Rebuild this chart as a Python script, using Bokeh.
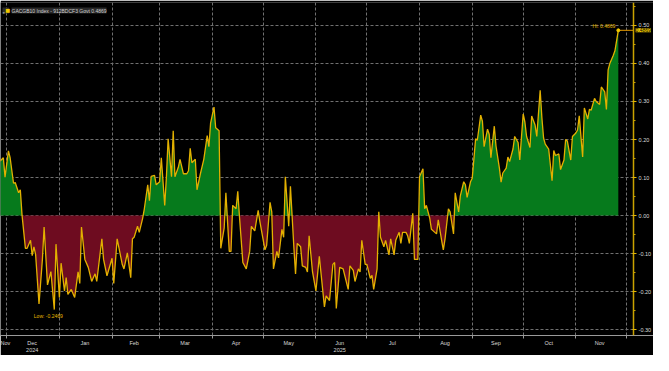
import numpy as np
from bokeh.plotting import figure
from bokeh.models import Range1d, FixedTicker, Label, NumeralTickFormatter
from bokeh.embed import file_html
from bokeh.resources import INLINE

series_name = "GACGB10 Index - 912BDCF3 Govt 0.4869"

dates = [
    "2024-11-27", "2024-11-29", "2024-11-30", "2024-12-02", "2024-12-03", "2024-12-05", "2024-12-06", "2024-12-08",
    "2024-12-09", "2024-12-10", "2024-12-12", "2024-12-13", "2024-12-15", "2024-12-16", "2024-12-17", "2024-12-18",
    "2024-12-20", "2024-12-22", "2024-12-23", "2024-12-25", "2024-12-27", "2024-12-29", "2024-12-30", "2025-01-01",
    "2025-01-02", "2025-01-04", "2025-01-05", "2025-01-06", "2025-01-08", "2025-01-10", "2025-01-12", "2025-01-13",
    "2025-01-14", "2025-01-16", "2025-01-18", "2025-01-20", "2025-01-22", "2025-01-23", "2025-01-26", "2025-01-27",
    "2025-01-29", "2025-02-01", "2025-02-02", "2025-02-04", "2025-02-07", "2025-02-08", "2025-02-10", "2025-02-12",
    "2025-02-13", "2025-02-14", "2025-02-16", "2025-02-17", "2025-02-19", "2025-02-20", "2025-02-22", "2025-02-23",
    "2025-02-24", "2025-02-26", "2025-02-27", "2025-03-01", "2025-03-02", "2025-03-04", "2025-03-05", "2025-03-06",
    "2025-03-08", "2025-03-09", "2025-03-10", "2025-03-12", "2025-03-13", "2025-03-15", "2025-03-17", "2025-03-18",
    "2025-03-19", "2025-03-20", "2025-03-22", "2025-03-23", "2025-03-25", "2025-03-27", "2025-03-29", "2025-03-30",
    "2025-03-31", "2025-04-02", "2025-04-03", "2025-04-05", "2025-04-06", "2025-04-08", "2025-04-09", "2025-04-11",
    "2025-04-12", "2025-04-13", "2025-04-15", "2025-04-16", "2025-04-17", "2025-04-19", "2025-04-21", "2025-04-23",
    "2025-04-24", "2025-04-26", "2025-04-28", "2025-04-29", "2025-05-02", "2025-05-03", "2025-05-05", "2025-05-06",
    "2025-05-07", "2025-05-09", "2025-05-10", "2025-05-12", "2025-05-13", "2025-05-14", "2025-05-16", "2025-05-17",
    "2025-05-19", "2025-05-20", "2025-05-21", "2025-05-23", "2025-05-24", "2025-05-26", "2025-05-27", "2025-05-28",
    "2025-05-30", "2025-06-01", "2025-06-03", "2025-06-06", "2025-06-07", "2025-06-09", "2025-06-11", "2025-06-12",
    "2025-06-13", "2025-06-15", "2025-06-17", "2025-06-20", "2025-06-21", "2025-06-23", "2025-06-24", "2025-06-26",
    "2025-06-27", "2025-06-28", "2025-06-30", "2025-07-01", "2025-07-03", "2025-07-04", "2025-07-05", "2025-07-07",
    "2025-07-08", "2025-07-09", "2025-07-11", "2025-07-12", "2025-07-14", "2025-07-15", "2025-07-17", "2025-07-18",
    "2025-07-20", "2025-07-21", "2025-07-22", "2025-07-24", "2025-07-25", "2025-07-26", "2025-07-28", "2025-07-29",
    "2025-07-31", "2025-08-01", "2025-08-03", "2025-08-04", "2025-08-05", "2025-08-07", "2025-08-08", "2025-08-10",
    "2025-08-11", "2025-08-12", "2025-08-14", "2025-08-15", "2025-08-16", "2025-08-18", "2025-08-19", "2025-08-21",
    "2025-08-22", "2025-08-24", "2025-08-25", "2025-08-27", "2025-08-28", "2025-08-29", "2025-08-31", "2025-09-01",
    "2025-09-03", "2025-09-04", "2025-09-06", "2025-09-07", "2025-09-08", "2025-09-10", "2025-09-11", "2025-09-12",
    "2025-09-14", "2025-09-15", "2025-09-17", "2025-09-18", "2025-09-19", "2025-09-21", "2025-09-22", "2025-09-23",
    "2025-09-25", "2025-09-26", "2025-09-28", "2025-09-29", "2025-10-01", "2025-10-02", "2025-10-03", "2025-10-05",
    "2025-10-06", "2025-10-08", "2025-10-09", "2025-10-11", "2025-10-12", "2025-10-13", "2025-10-14", "2025-10-16",
    "2025-10-18", "2025-10-19", "2025-10-20", "2025-10-22", "2025-10-23", "2025-10-25", "2025-10-26", "2025-10-27",
    "2025-10-29", "2025-10-30", "2025-11-01", "2025-11-02", "2025-11-03", "2025-11-05", "2025-11-06", "2025-11-08",
    "2025-11-09", "2025-11-10", "2025-11-12", "2025-11-13", "2025-11-15", "2025-11-16", "2025-11-18", "2025-11-19",
    "2025-11-20", "2025-11-21", "2025-11-23", "2025-11-24", "2025-11-26",
]

spread = [
    0.143, 0.152, 0.101, 0.170, 0.152, 0.085, 0.087, 0.060,
    0.068, 0.002, -0.086, -0.086, -0.065, -0.105, -0.082, -0.102,
    -0.232, -0.115, -0.030, -0.182, -0.147, -0.2469, -0.075, -0.215,
    -0.125, -0.198, -0.163, -0.207, -0.194, -0.215, -0.148, -0.178,
    -0.030, -0.115, -0.136, -0.173, -0.153, -0.173, -0.061, -0.115,
    -0.158, -0.112, -0.178, -0.061, -0.128, -0.140, -0.098, -0.163,
    -0.061, -0.057, -0.028, -0.044, -0.007, 0.018, 0.081, 0.039,
    0.103, 0.106, 0.081, 0.089, 0.152, 0.027, 0.102, 0.202,
    0.102, 0.223, 0.102, 0.127, 0.148, 0.110, 0.110, 0.118,
    0.177, 0.139, 0.148, 0.068, 0.110, 0.148, 0.210, 0.181,
    0.243, 0.285, 0.231, 0.223, -0.086, -0.032, 0.060, -0.094,
    -0.094, 0.027, 0.018, 0.064, -0.003, -0.123, -0.140, -0.094,
    -0.028, -0.040, 0.014, -0.015, -0.090, -0.078, 0.035, 0.010,
    -0.140, -0.094, -0.111, -0.036, -0.057, 0.102, -0.028, 0.077,
    -0.082, -0.153, -0.073, -0.082, -0.132, -0.136, -0.148, -0.053,
    -0.148, -0.198, -0.107, -0.240, -0.211, -0.223, -0.128, -0.123,
    -0.244, -0.136, -0.140, -0.194, -0.132, -0.144, -0.173, -0.140,
    -0.148, -0.065, -0.128, -0.128, -0.165, -0.157, -0.194, -0.140,
    0.010, -0.057, -0.082, -0.065, -0.103, -0.061, -0.103, -0.065,
    -0.044, -0.073, -0.044, -0.044, -0.053, -0.073, 0.006, -0.115,
    -0.115, 0.102, 0.123, 0.018, 0.027, -0.007, -0.036, -0.044,
    -0.048, -0.011, -0.065, -0.090, -0.061, 0.018, 0.010, -0.048,
    0.060, 0.010, 0.052, 0.089, 0.081, 0.048, 0.089, 0.098,
    0.202, 0.198, 0.264, 0.248, 0.181, 0.227, 0.214, 0.152,
    0.235, 0.183, 0.125, 0.088, 0.112, 0.125, 0.154, 0.142,
    0.175, 0.208, 0.192, 0.146, 0.267, 0.246, 0.208, 0.179,
    0.262, 0.238, 0.208, 0.329, 0.258, 0.204, 0.188, 0.175,
    0.092, 0.171, 0.158, 0.162, 0.121, 0.146, 0.200, 0.196,
    0.146, 0.208, 0.217, 0.225, 0.262, 0.154, 0.283, 0.254,
    0.279, 0.277, 0.308, 0.300, 0.292, 0.338, 0.325, 0.279,
    0.383, 0.400, 0.421, 0.433, 0.4869,
]

month_labels = ["Nov", "Dec\n2024", "Jan", "Feb", "Mar", "Apr", "May", "Jun\n2025",
                "Jul", "Aug", "Sep", "Oct", "Nov"]
month_label_dates = ["2024-11-29", "2024-12-16", "2025-01-16", "2025-02-14", "2025-03-16", "2025-04-15",
                     "2025-05-16", "2025-06-15", "2025-07-16", "2025-08-16", "2025-09-15", "2025-10-16",
                     "2025-11-15"]
month_starts = ["2024-12-01", "2025-01-01", "2025-02-01", "2025-03-01", "2025-04-01", "2025-05-01",
                "2025-06-01", "2025-07-01", "2025-08-01", "2025-09-01", "2025-10-01", "2025-11-01",
                "2025-12-01"]
y_ticks = [-0.30, -0.20, -0.10, 0.00, 0.10, 0.20, 0.30, 0.40, 0.50]
y_minor = [-0.25, -0.15, -0.05, 0.05, 0.15, 0.25, 0.35, 0.45, 0.55]
hi_value = 0.4869
lo_value = -0.2469


def ms(d):
    return float(np.datetime64(d, "ms").astype("int64"))


t = [ms(d) for d in dates]
v = spread

# fill polygons split at zero crossings
xs, ys = [t[0]], [v[0]]
for i in range(1, len(t)):
    a, b = v[i - 1], v[i]
    if a * b < 0:
        xc = t[i - 1] + (t[i] - t[i - 1]) * a / (a - b)
        xs.append(xc)
        ys.append(0.0)
    xs.append(t[i])
    ys.append(b)
ys = np.array(ys)
pos = np.maximum(ys, 0)
neg = np.minimum(ys, 0)

x0 = ms("2024-11-27T08:00")
x_axis_date = ms("2025-12-05")      # where the value scale sits
x_end = ms("2025-12-16T17:00")
y0, y1 = -0.315, 0.56

p = figure(width=653, height=355, x_axis_type="datetime", y_axis_location="right",
           x_range=Range1d(x0, x_end), y_range=Range1d(y0, y1),
           output_backend="svg", toolbar_location=None,
           min_border_left=0, min_border_top=2, min_border_right=0, min_border_bottom=12)
p.background_fill_color = "black"
p.border_fill_color = "black"
p.outline_line_color = None

# black strip behind the value scale labels (hides the grid there)
p.quad(left=[x_axis_date], right=[x_end], bottom=[y0], top=[y1], fill_color="black", line_color=None)

p.varea(x=xs, y1=0, y2=pos, fill_color="#067a1c", fill_alpha=1)
p.varea(x=xs, y1=0, y2=neg, fill_color="#6e0c20", fill_alpha=1)
p.line(t, v, line_color="#e3b000", line_width=1.3)

# grids
p.xgrid.ticker = FixedTicker(ticks=[ms(d) for d in month_starts])
p.ygrid.ticker = FixedTicker(ticks=y_ticks)
for g in (p.xgrid, p.ygrid):
    g.grid_line_color = "#707070"
    g.grid_line_dash = "3 2"
    g.grid_line_width = 1

# x axis
xa = p.xaxis[0]
label_ticks = [ms(d) for d in month_label_dates]
xa.ticker = FixedTicker(ticks=label_ticks, minor_ticks=[ms(d) for d in month_starts])
xa.major_label_overrides = {tk: lb for tk, lb in zip(label_ticks, month_labels)}
xa.major_tick_out = 0
xa.major_tick_in = 0
xa.minor_tick_out = 3
xa.minor_tick_in = 0
xa.minor_tick_line_color = "#9a9a9a"
xa.axis_line_color = "#9a9a9a"
xa.major_label_text_color = "#d8d8d8"
xa.major_label_text_font = "Liberation Sans"
xa.major_label_text_font_size = "5.5px"
xa.major_label_standoff = 1

# value axis, fixed at the right end of the time span
ya = p.yaxis[0]
ya.fixed_location = x_axis_date
ya.ticker = FixedTicker(ticks=y_ticks, minor_ticks=y_minor)
ya.formatter = NumeralTickFormatter(format="0.00")
ya.axis_line_color = "#c9a200"
ya.axis_line_width = 1.5
ya.major_tick_line_color = "#e6b800"
ya.major_tick_out = 3
ya.major_tick_in = 1
ya.minor_tick_line_color = "#c9a200"
ya.minor_tick_out = 2
ya.minor_tick_in = 0
ya.major_label_text_color = "#dcdcdc"
ya.major_label_text_font = "Liberation Sans"
ya.major_label_text_font_size = "5.5px"
ya.major_label_standoff = 2

# legend-like header
p.add_layout(Label(x=x0, y=y1, x_offset=2, y_offset=-5, text="    ", text_font_size="6px",
                   background_fill_color="#2a2a2a", text_baseline="top", text_color="#2a2a2a"))
p.add_layout(Label(x=x0, y=y1, x_offset=11, y_offset=-5, text=series_name,
                   text_font="Liberation Sans", text_font_size="5px", text_color="#d0d0d0",
                   text_baseline="top", background_fill_color="#2a2a2a"))
p.add_layout(Label(x=x0, y=y1, x_offset=2, y_offset=-6, text="▪",
                   text_font_size="7px", text_color="#888888", text_baseline="top"))
p.add_layout(Label(x=x0, y=y1, x_offset=5, y_offset=-3, text="■",
                   text_font_size="8px", text_color="#f0c800", text_baseline="top"))

# high marker
t_last = t[-1]
p.segment(x0=[t_last], y0=[hi_value], x1=[x_axis_date], y1=[hi_value], line_color="#e69a00", line_width=1)
p.scatter([t_last], [hi_value], size=3, color="#f0c800")
p.add_layout(Label(x=t_last, y=hi_value, x_offset=-3, y_offset=1, text="Hi: 0.4869",
                   text_font="Liberation Sans", text_font_size="5px", text_color="#e6b800",
                   text_align="right", text_baseline="bottom"))
p.add_layout(Label(x=x_axis_date, y=hi_value, x_offset=2, text="0.4869",
                   text_font="Liberation Sans", text_font_size="5px", text_color="black",
                   text_baseline="middle", background_fill_color="#f0c800"))

# low marker
t_low = t[v.index(lo_value)]
p.add_layout(Label(x=t_low, y=lo_value, x_offset=-6, y_offset=-3, text="Low: -0.2469",
                   text_font="Liberation Sans", text_font_size="5px", text_color="#e6b800",
                   text_align="center", text_baseline="top"))

open("out.html", "w").write(file_html(p, INLINE))
